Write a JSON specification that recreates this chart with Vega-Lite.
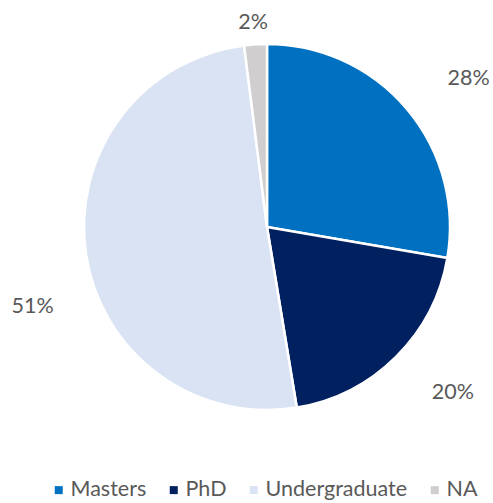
{
  "$schema": "https://vega.github.io/schema/vega-lite/v6.json",
  "autosize": {"type": "none"},
  "padding": {"left": 84, "top": 44, "right": 43, "bottom": 93},
  "width": 366,
  "height": 366,
  "background": "white",
  "config": {
    "view": {"stroke": null},
    "text": {"font": "Lato", "fontSize": 21.5, "color": "#595959"}
  },
  "data": {
    "values": [
      {"label": "Masters", "rank": 1, "value": 0.277},
      {"label": "PhD", "rank": 2, "value": 0.197},
      {"label": "Undergraduate", "rank": 3, "value": 0.506},
      {"label": "NA", "rank": 4, "value": 0.020}
    ]
  },
  "encoding": {
    "theta": {"field": "value", "type": "quantitative", "stack": true},
    "order": {"field": "rank", "type": "quantitative"}
  },
  "layer": [
    {
      "mark": {"type": "arc", "outerRadius": 183, "stroke": "white", "strokeWidth": 2.5},
      "encoding": {
        "color": {
          "field": "label",
          "type": "nominal",
          "sort": ["Masters", "PhD", "Undergraduate", "NA"],
          "scale": {
            "domain": ["Masters", "PhD", "Undergraduate", "NA"],
            "range": ["#0070C0", "#002060", "#DAE3F3", "#D0CECE"]
          },
          "legend": {
            "orient": "none",
            "legendX": -36,
            "legendY": 435,
            "direction": "horizontal",
            "title": null,
            "padding": 0,
            "symbolType": "square",
            "symbolSize": 64,
            "symbolStrokeWidth": 0,
            "labelFont": "Lato",
            "labelFontSize": 21.5,
            "labelColor": "#595959",
            "labelOffset": 1,
            "columnPadding": 16
          }
        }
      }
    },
    {
      "mark": {"type": "text", "radius": 248, "dx": 12, "dy": 12},
      "encoding": {
        "text": {"condition": {"test": "datum.label === 'Masters'", "field": "value", "format": ".0%"}, "value": ""}
      }
    },
    {
      "mark": {"type": "text", "radius": 248, "dx": 11, "dy": -10},
      "encoding": {
        "text": {"condition": {"test": "datum.label === 'PhD'", "field": "value", "format": ".0%"}, "value": ""}
      }
    },
    {
      "mark": {"type": "text", "radius": 248, "dx": 11, "dy": 44},
      "encoding": {
        "text": {"condition": {"test": "datum.label === 'Undergraduate'", "field": "value", "format": ".0%"}, "value": ""}
      }
    },
    {
      "mark": {"type": "text", "radius": 205, "dx": -1, "dy": 1},
      "encoding": {
        "text": {"condition": {"test": "datum.label === 'NA'", "field": "value", "format": ".0%"}, "value": ""}
      }
    }
  ]
}
